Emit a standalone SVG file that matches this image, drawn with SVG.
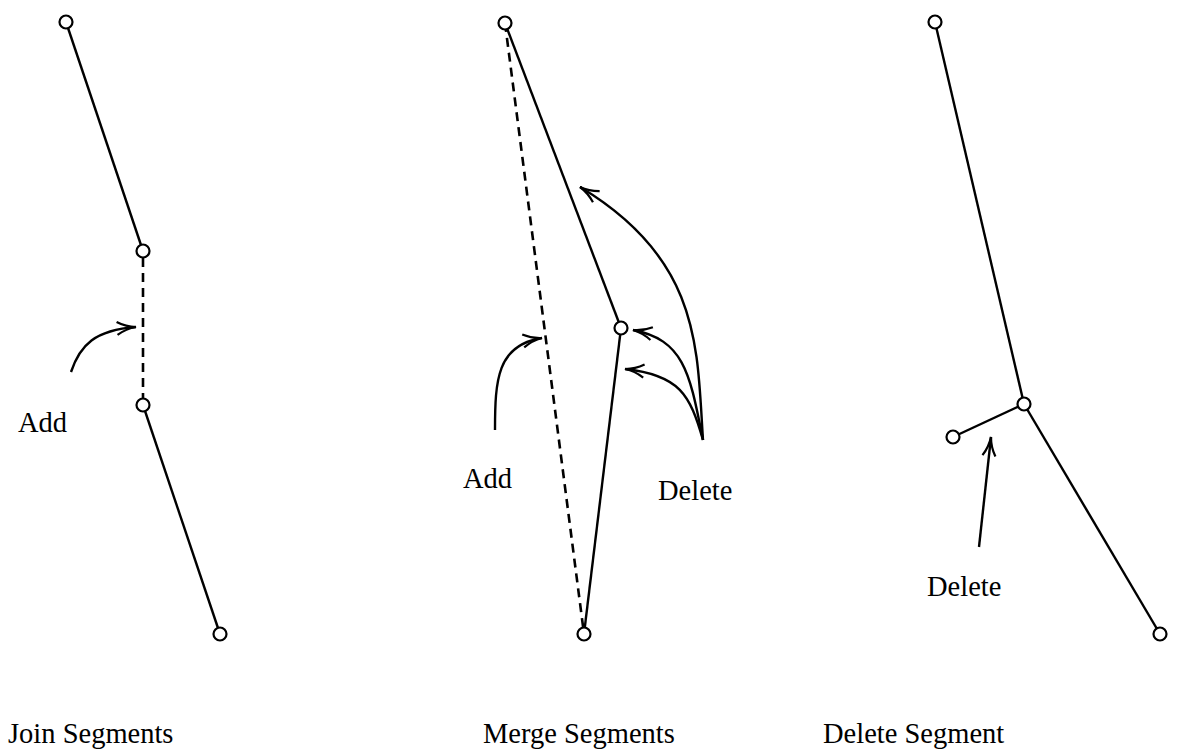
<svg xmlns="http://www.w3.org/2000/svg" width="1177" height="753" viewBox="0 0 1177 753">
<defs>
<marker id="ah" viewBox="0 0 22 16" refX="21" refY="8" markerWidth="22" markerHeight="16" markerUnits="userSpaceOnUse" orient="auto">
<path d="M2,1.5 Q11,7 21,8 Q11,9 2,14.5" fill="none" stroke="#000" stroke-width="2.2"/>
</marker>
</defs>
<style>
.seg{stroke:#000;stroke-width:2.4;fill:none}
.dash{stroke:#000;stroke-width:2.6;fill:none;stroke-dasharray:9,6}
.nd{fill:#fff;stroke:#000;stroke-width:2.2}
.arr{stroke:#000;stroke-width:2.4;fill:none;marker-end:url(#ah)}
text{font-family:"Liberation Serif","Times New Roman",serif;font-size:28.5px;fill:#000}
</style>
<rect width="1177" height="753" fill="#fff"/>
<g id="connectors">
<line class="seg" x1="66" y1="22" x2="143" y2="251"/>
<line class="dash" x1="143" y1="258" x2="143" y2="398"/>
<line class="seg" x1="143" y1="405" x2="220" y2="634"/>
<path class="arr" d="M71,372 C80,345 95,330 136,327"/>
<line class="seg" x1="505" y1="23" x2="621" y2="328"/>
<line class="seg" x1="621" y1="328" x2="584" y2="634"/>
<line class="dash" x1="505" y1="23" x2="584" y2="634"/>
<path class="arr" d="M495,430 C495,380 497,345 542,338"/>
<path class="arr" d="M703,440 C697,350 702,260 580,187"/>
<path class="arr" d="M703,440 C690,375 685,340 633,330"/>
<path class="arr" d="M703,440 C690,395 680,375 625,369"/>
<line class="seg" x1="935" y1="22" x2="1024" y2="404"/>
<line class="seg" x1="1024" y1="404" x2="1160" y2="634"/>
<line class="seg" x1="1024" y1="404" x2="953" y2="437"/>
<path class="arr" d="M979,547 L991,437"/>
</g>
<g id="join-top"><circle class="nd" cx="66" cy="22" r="6.5"/></g>
<g id="join-mid1"><circle class="nd" cx="143" cy="251" r="6.5"/></g>
<g id="join-mid2"><circle class="nd" cx="143" cy="405" r="6.5"/></g>
<g id="join-bottom"><circle class="nd" cx="220" cy="634" r="6.5"/></g>
<g id="merge-top"><circle class="nd" cx="505" cy="23" r="6.5"/></g>
<g id="merge-mid"><circle class="nd" cx="621" cy="328" r="6.5"/></g>
<g id="merge-bottom"><circle class="nd" cx="584" cy="634" r="6.5"/></g>
<g id="del-top"><circle class="nd" cx="935" cy="22" r="6.5"/></g>
<g id="del-junction"><circle class="nd" cx="1024" cy="404" r="6.5"/></g>
<g id="del-branch"><circle class="nd" cx="953" cy="437" r="6.5"/></g>
<g id="del-bottom"><circle class="nd" cx="1160" cy="634" r="6.5"/></g>
<g id="labels">
<text x="18" y="432">Add</text>
<text x="463" y="488">Add</text>
<text x="658" y="500">Delete</text>
<text x="927" y="596">Delete</text>
<text x="8" y="743">Join Segments</text>
<text x="483" y="743">Merge Segments</text>
<text x="823" y="743">Delete Segment</text>
</g>
</svg>
